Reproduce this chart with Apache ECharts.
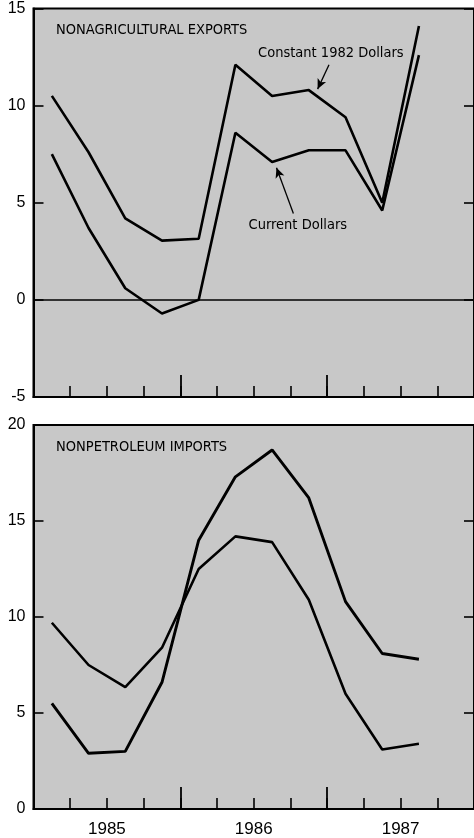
<!DOCTYPE html>
<html>
<head>
<meta charset="utf-8">
<script src="https://cdn.jsdelivr.net/npm/echarts@6/dist/echarts.min.js"></script>
<style>
html,body{margin:0;padding:0;background:#fff;}
#c{width:474px;height:838px;}
</style>
</head>
<body>
<div id="c"></div>
<script>
// ---- data ----
const quarters = ['85Q1','85Q2','85Q3','85Q4','86Q1','86Q2','86Q3','86Q4','87Q1','87Q2','87Q3','87Q4'];
const years = ['1985','1986','1987'];
const exportsTitle = 'NONAGRICULTURAL EXPORTS';
const importsTitle = 'NONPETROLEUM IMPORTS';
const exportsConstant = [10.5, 7.6, 4.2, 3.05, 3.15, 12.1, 10.5, 10.8, 9.4, 5.0, 14.1];
const exportsCurrent  = [7.5, 3.7, 0.6, -0.7, 0.0, 8.6, 7.1, 7.7, 7.7, 4.6, 12.6];
const importsA = [9.7, 7.5, 6.35, 8.4, 12.5, 14.2, 13.9, 10.9, 6.0, 3.1, 3.4];
const importsB = [5.5, 2.9, 3.0, 6.6, 14.0, 17.3, 18.7, 16.2, 10.8, 8.1, 7.8];
const exportsTicks = [-5, 0, 5, 10, 15];
const importsTicks = [0, 5, 10, 15, 20];

// ---- chart ----
const FONT = '"Liberation Sans", Arial, sans-serif';
const NARROW = '"Liberation Sans Narrow", "DejaVu Sans Condensed", sans-serif';
const chart = echarts.init(document.getElementById('c'), null, {renderer:'canvas'});

function qAxis(gi){
  return {type:'category', gridIndex:gi, data:quarters, boundaryGap:true, position:'bottom',
    axisLine:{show:true, onZero:false, lineStyle:{color:'#000', width:2}},
    axisTick:{show:true, inside:true, length:11, interval:0, lineStyle:{color:'#000', width:1.6}},
    axisLabel:{show:false}, splitLine:{show:false}};
}
function yrAxis(gi, showLabel){
  return {type:'category', gridIndex:gi, data:years, boundaryGap:true, position:'bottom',
    axisLine:{show:false, onZero:false},
    axisTick:{show:true, inside:true, length:22, interval:0, lineStyle:{color:'#000', width:1.8}},
    axisLabel:{show:showLabel, color:'#000', fontFamily:FONT, fontSize:17, margin:12},
    splitLine:{show:false}};
}
function annAxis(gi){
  return {type:'value', gridIndex:gi, min:0, max:quarters.length, show:false,
    axisLine:{onZero:false}, splitLine:{show:false}};
}
function yAx(gi, ticks, side){
  return {type:'value', gridIndex:gi, position:side, min:ticks[0], max:ticks[ticks.length-1], interval:5,
    axisLine:{show:side==='left', onZero:false, lineStyle:{color:'#000', width:2}},
    axisTick:{show:true, inside:true, length:10, lineStyle:{color:'#000', width:1.6}},
    axisLabel:{show:side==='left', color:'#000', fontFamily:FONT, fontSize:16, margin:8},
    splitLine:{show:false}};
}
const lineStyle = {color:'#000', width:2.6};
function ln(data, xi, yi, extra){
  return Object.assign({type:'line', data:data, xAxisIndex:xi, yAxisIndex:yi, symbol:'none',
    lineStyle:lineStyle, itemStyle:{color:'#000'}, silent:true, animation:false, z:5}, extra||{});
}
const annLabel = {show:true, color:'#000', fontFamily:NARROW, fontSize:14.5, position:'inside', formatter:'{b}'};

chart.setOption({
  animation:false,
  backgroundColor:'#fff',
  title:[
    {text:exportsTitle, left:51, top:18, textStyle:{fontFamily:NARROW, fontSize:14.5, fontWeight:'normal', color:'#000'}},
    {text:importsTitle, left:51, top:435, textStyle:{fontFamily:NARROW, fontSize:14.5, fontWeight:'normal', color:'#000'}}
  ],
  grid:[
    {left:33.5, top:8.5, width:442.5, height:388.5, show:true, backgroundColor:'#c8c8c8', borderColor:'#000', borderWidth:2},
    {left:33.5, top:425, width:442.5, height:388, show:true, backgroundColor:'#c8c8c8', borderColor:'#000', borderWidth:2}
  ],
  xAxis:[qAxis(0), yrAxis(0,false), qAxis(1), yrAxis(1,true), annAxis(0)],
  yAxis:[yAx(0, exportsTicks,'left'), yAx(0, exportsTicks,'right'), yAx(1, importsTicks,'left'), yAx(1, importsTicks,'right')],
  series:[
    ln(exportsConstant, 0, 0, {
      markLine:{silent:true, symbol:['none','none'], label:{show:false},
        lineStyle:{color:'#000', width:1.6, type:'solid'}, data:[{yAxis:0}]}
    }),
    ln(exportsCurrent, 0, 0),
    {type:'line', xAxisIndex:4, yAxisIndex:0, data:[], silent:true,
      markPoint:{silent:true, symbol:'circle', symbolSize:0, label:annLabel,
        data:[{name:'Constant 1982 Dollars', coord:[8.1, 12.7]},
              {name:'Current Dollars', coord:[7.2, 3.85]}]},
      markLine:{silent:true, symbol:['none','arrow'], symbolSize:[7,10], label:{show:false},
        lineStyle:{color:'#000', width:1.3, type:'solid'},
        data:[
          [{coord:[8.05, 12.1]}, {coord:[7.74, 10.85]}],
          [{coord:[7.08, 4.45]}, {coord:[6.62, 6.8]}]
        ]}},
    ln(importsA, 2, 2),
    ln(importsB, 2, 2, {lineStyle:{color:'#000', width:2.9}})
  ]
});
</script>
</body>
</html>
